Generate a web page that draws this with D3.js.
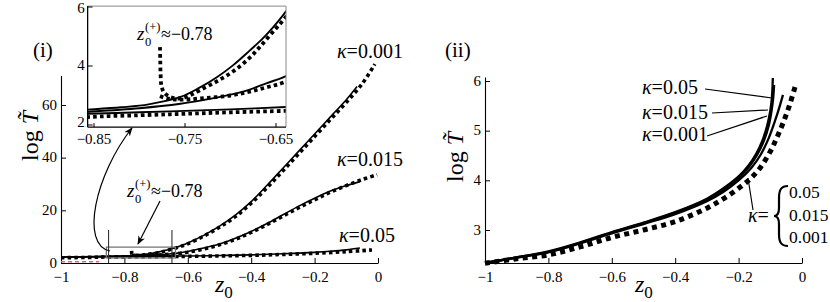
<!DOCTYPE html>
<html><head><meta charset="utf-8">
<script src="https://cdn.jsdelivr.net/npm/d3@7"></script>
<style>
body{margin:0;background:#fff}
</style>
</head><body>
<svg id="c" width="830" height="302"></svg>
<script>
// ---------------- DATA ----------------
// Panel (i): log T~ vs z0, solid = exact, dotted = approximation
const k001Solid = [[-1,2.3],[-0.95,2.36],[-0.9,2.44],[-0.857,2.52],[-0.82,2.6],[-0.79,2.7],[-0.755,2.95],[-0.735,3.25],[-0.715,3.62],[-0.697,4.03],[-0.679,4.52],[-0.665,4.92],[-0.653,5.32],[-0.639,5.85],[-0.62,6.6],[-0.6,7.6],[-0.55,10.5],[-0.5,14],[-0.45,18.2],[-0.4,23.3],[-0.35,29.5],[-0.3,36],[-0.25,42.5],[-0.2,49],[-0.15,55.5],[-0.1,62],[-0.066,67]];
const k001Dot = [[-0.7775,4.64],[-0.7772,4.2],[-0.7768,3.7],[-0.776,3.35],[-0.773,3.1],[-0.766,2.95],[-0.755,2.9],[-0.745,3.0],[-0.733,3.19],[-0.715,3.48],[-0.697,3.82],[-0.68,4.25],[-0.668,4.64],[-0.655,5.1],[-0.64,5.63],[-0.62,6.4],[-0.6,7.3],[-0.55,10.2],[-0.5,13.6],[-0.45,17.6],[-0.4,22.7],[-0.35,28.6],[-0.3,35],[-0.25,41.5],[-0.2,48],[-0.15,54.5],[-0.1,61],[-0.05,68],[-0.01,75.5]];
const k015Solid = [[-1,2.25],[-0.9,2.38],[-0.857,2.45],[-0.8,2.57],[-0.755,2.72],[-0.733,2.83],[-0.7,3.03],[-0.679,3.2],[-0.66,3.42],[-0.639,3.66],[-0.6,4.4],[-0.55,5.7],[-0.5,7.2],[-0.45,9.4],[-0.4,12],[-0.35,15],[-0.3,18.3],[-0.25,21.6],[-0.2,24.6],[-0.15,27.3],[-0.1,29.4],[-0.057,30.9]];
const k015Dot = [[-0.7775,2.98],[-0.77,2.9],[-0.755,2.86],[-0.733,2.9],[-0.7,3.0],[-0.679,3.13],[-0.66,3.28],[-0.639,3.47],[-0.6,4.1],[-0.55,5.3],[-0.5,6.9],[-0.45,9.0],[-0.4,11.6],[-0.35,14.6],[-0.3,17.8],[-0.25,21.0],[-0.2,24.0],[-0.15,26.9],[-0.1,29.4],[-0.05,31.7],[-0.003,33.5]];
const k05Solid = [[-1,2.2],[-0.9,2.32],[-0.857,2.38],[-0.8,2.43],[-0.75,2.48],[-0.7,2.53],[-0.639,2.61],[-0.6,2.66],[-0.5,2.85],[-0.4,3.1],[-0.3,3.5],[-0.2,4.05],[-0.15,4.45],[-0.1,5.0],[-0.057,5.7]];
const k05Dot = [[-1,2.0],[-0.9,2.15],[-0.857,2.27],[-0.8,2.33],[-0.75,2.38],[-0.7,2.43],[-0.639,2.48],[-0.6,2.52],[-0.5,2.68],[-0.4,2.9],[-0.3,3.25],[-0.2,3.7],[-0.1,4.3],[-0.019,4.95]];
const pinkLeft = [[-1,0.5],[-0.88,0.5]];

// Panel (ii)
const r05Solid = [[-1,2.34],[-0.9,2.45],[-0.8,2.57],[-0.7,2.75],[-0.6,2.96],[-0.5,3.15],[-0.4,3.36],[-0.3,3.63],[-0.25,3.83],[-0.2,4.08],[-0.17,4.29],[-0.145,4.53],[-0.125,4.8],[-0.11,5.1],[-0.1,5.4],[-0.095,5.66],[-0.092,6.06]];
const r015Solid = [[-1,2.34],[-0.9,2.45],[-0.8,2.56],[-0.7,2.74],[-0.6,2.95],[-0.5,3.14],[-0.4,3.35],[-0.3,3.61],[-0.25,3.8],[-0.2,4.05],[-0.165,4.29],[-0.14,4.53],[-0.12,4.8],[-0.105,5.1],[-0.096,5.4],[-0.091,5.65],[-0.088,5.92]];
const r001Solid = [[-1,2.34],[-0.9,2.44],[-0.8,2.55],[-0.7,2.73],[-0.6,2.93],[-0.5,3.12],[-0.4,3.32],[-0.3,3.58],[-0.25,3.76],[-0.2,4.0],[-0.16,4.25],[-0.13,4.52],[-0.105,4.85],[-0.085,5.2],[-0.07,5.5],[-0.06,5.72]];
const rDot = [[-1,2.33],[-0.9,2.42],[-0.8,2.5],[-0.7,2.66],[-0.6,2.85],[-0.5,3.0],[-0.4,3.17],[-0.3,3.44],[-0.25,3.62],[-0.2,3.84],[-0.16,4.05],[-0.13,4.27],[-0.1,4.58],[-0.08,4.85],[-0.06,5.15],[-0.04,5.5],[-0.022,5.88]];
const pinkRight = [[-1,2.34],[-0.9,2.41]];

// Ticks
const xMajor = [-1,-0.8,-0.6,-0.4,-0.2,0];
const xMinor = d3.range(-1,0.001,0.05);
const leftYMajor = [0,20,40,60];
const leftYMinor = d3.range(0,71,5);
const insetXMajor = [-0.85,-0.75,-0.65];
const insetYMajor = [2,4,6];
const rightYMajor = [3,4,5,6];
const rightYMinor = d3.range(2.4,6.05,0.2);
const braceKappas = ["0.05","0.015","0.001"];

const fmt = v => (v===0?"0":(v<0?"\u2212":"")+String(Math.abs(v)));
const FONT = '"Liberation Serif","Times New Roman",serif';

// ---------------- SCALES ----------------
const svg = d3.select("#c");
const lx = d3.scaleLinear().domain([-1,0]).range([61,378]);
const ly = d3.scaleLinear().domain([0,60]).range([263,105]);
const ix = d3.scaleLinear().domain([-0.85,-0.65]).range([94,276]);
const iy = d3.scaleLinear().domain([2,6]).range([125,7]);
const rx = d3.scaleLinear().domain([-1,0]).range([485,802]);
const ry = d3.scaleLinear().domain([3,6]).range([230,81]);

const curve = d3.curveCatmullRom.alpha(0.5);
function path(g, data, xs, ys, w, dash, color){
  const p = g.append("path").datum(data)
    .attr("d", d3.line().x(d=>xs(d[0])).y(d=>ys(d[1])).curve(curve))
    .attr("fill","none").attr("stroke",color||"#000").attr("stroke-width",w);
  if(dash) p.attr("stroke-dasharray",dash);
  return p;
}
function axes(g, xs, ys, yMaj, yMin, yFmt){
  const gx = g.append("g").attr("transform",`translate(0,${ys(ys.domain()[0])})`);
  gx.call(d3.axisBottom(xs).tickValues(xMinor).tickSize(-2.5).tickSizeOuter(0).tickFormat(""));
  gx.call(d3.axisBottom(xs).tickValues(xMajor).tickSize(-5).tickSizeOuter(0).tickPadding(8.5).tickFormat(fmt));
  const gy = g.append("g").attr("transform",`translate(${xs(-1)},0)`);
  gy.call(d3.axisLeft(ys).tickValues(yMin).tickSize(-2.5).tickSizeOuter(0).tickFormat(""));
  gy.call(d3.axisLeft(ys).tickValues(yMaj).tickSize(-5).tickSizeOuter(0).tickPadding(4).tickFormat(yFmt));
  [gx,gy].forEach(a=>{a.selectAll("text").attr("font-size",15);
    a.selectAll("path.domain").attr("stroke","#000").attr("stroke-width",1.1);
    a.selectAll("line").attr("stroke","#000");});
  gy.selectAll("text").attr("dy","0.28em");
  return {gx,gy};
}

// ---------------- PANEL (i) ----------------
const L = svg.append("g");
const lyTop = 71.2;
const lyAx = d3.scaleLinear().domain([0,lyTop]).range([263, ly(lyTop)]);
axes(L, lx, lyAx, leftYMajor, leftYMinor, d=>String(d));

path(L, pinkLeft, lx, ly, 1.5, "4,3", "#e0609a");
[k05Solid,k015Solid,k001Solid].forEach(d=>path(L,d,lx,ly,1.6));
[k05Dot,k015Dot,k001Dot].forEach(d=>path(L,d,lx,ly,3.6,"3.5,3.2"));

// zoom box
L.append("rect").attr("x",lx(-0.857)).attr("y",ly(6.03)).attr("width",lx(-0.639)-lx(-0.857)).attr("height",ly(1.93)-ly(6.03))
  .attr("fill","none").attr("stroke","#777").attr("stroke-width",1.3);
[-0.85,-0.65].forEach(z=>L.append("line").attr("x1",lx(z)).attr("x2",lx(z)).attr("y1",ly(0)).attr("y2",ly(12.5)).attr("stroke","#333").attr("stroke-width",1.1));

const defs = svg.append("defs");
defs.append("marker").attr("id","ah").attr("viewBox","0 0 10 10").attr("refX",9).attr("refY",5)
  .attr("markerWidth",9).attr("markerHeight",9).attr("markerUnits","userSpaceOnUse").attr("orient","auto")
  .append("path").attr("d","M0,1 L10,5 L0,9 L3,5 Z").attr("fill","#000");
L.append("path").attr("d",`M110,251 C80,245 95,175 132,128`).attr("fill","none").attr("stroke","#000").attr("stroke-width",1.2).attr("marker-end","url(#ah)");
L.append("line").attr("x1",160).attr("y1",201).attr("x2",138).attr("y2",244).attr("stroke","#000").attr("stroke-width",1.2).attr("marker-end","url(#ah)");

function zLabel(g,x,y){
  g.append("text").attr("x",x).attr("y",y).attr("font-size",19).attr("font-style","italic").text("z");
  g.append("text").attr("x",x+8).attr("y",y-9).attr("font-size",12.5).text("(+)");
  g.append("text").attr("x",x+8).attr("y",y+6).attr("font-size",12.5).text("0");
  g.append("text").attr("x",x+24).attr("y",y).attr("font-size",18).text("\u2248\u22120.78");
}
zLabel(L,127,197);

// inset
const I = svg.append("g");
const fx0 = ix(-0.857), fx1 = ix(-0.639), fy0 = iy(6.03), fy1 = iy(1.93);
I.append("rect").attr("x",fx0).attr("y",fy0).attr("width",fx1-fx0).attr("height",fy1-fy0).attr("fill","#fff");
defs.append("clipPath").attr("id","ic").append("rect").attr("x",fx0).attr("y",fy0).attr("width",fx1-fx0).attr("height",fy1-fy0);
const IC = I.append("g").attr("clip-path","url(#ic)");
[k05Solid,k015Solid,k001Solid].forEach(d=>path(IC,d,ix,iy,1.9));
[k05Dot,k015Dot,k001Dot].forEach(d=>path(IC,d,ix,iy,3.8,"3.6,3.2"));
I.append("line").attr("x1",fx0).attr("x2",fx1).attr("y1",fy0).attr("y2",fy0).attr("stroke","#888").attr("stroke-width",1);
I.append("line").attr("x1",fx1).attr("x2",fx1).attr("y1",fy0).attr("y2",fy1).attr("stroke","#888").attr("stroke-width",1);
I.append("line").attr("x1",fx0).attr("x2",fx0).attr("y1",fy0).attr("y2",fy1).attr("stroke","#000").attr("stroke-width",1.3);
I.append("line").attr("x1",fx0).attr("x2",fx1).attr("y1",fy1).attr("y2",fy1).attr("stroke","#000").attr("stroke-width",1.3);
insetYMajor.forEach(v=>{
  I.append("line").attr("x1",fx0).attr("x2",fx0+5).attr("y1",iy(v)).attr("y2",iy(v)).attr("stroke","#000");
  I.append("text").attr("x",fx0-3).attr("y",Math.min(Math.max(iy(v)+4,13),127)).attr("text-anchor","end").attr("font-size",15).text(v);
});
insetXMajor.forEach(v=>{
  I.append("line").attr("x1",ix(v)).attr("x2",ix(v)).attr("y1",fy1).attr("y2",fy1-4).attr("stroke","#000");
  I.append("text").attr("x",ix(v)).attr("y",144).attr("text-anchor","middle").attr("font-size",15).text(fmt(v));
});
zLabel(I,137,40);

// labels panel (i)
svg.append("text").attr("x",33).attr("y",57).attr("font-size",21).text("(i)");
function yLabel(x,y){
  const t = svg.append("text").attr("transform",`translate(${x},${y}) rotate(-90)`).attr("text-anchor","middle").attr("font-size",24);
  t.append("tspan").text("log ");
  t.append("tspan").attr("font-style","italic").text("T\u0303");
}
yLabel(38,136);
function xLabel(x,y){
  const t = svg.append("text").attr("x",x).attr("y",y).attr("font-size",24);
  t.append("tspan").attr("font-style","italic").text("z");
  t.append("tspan").attr("font-size",17).attr("dy",6).text("0");
}
xLabel(215,292);
function kLab(x,y,s,fs){
  const t = svg.append("text").attr("x",x).attr("y",y).attr("font-size",fs||20);
  t.append("tspan").attr("font-style","italic").text("\u03ba");
  t.append("tspan").text("="+s);
}
kLab(337,58,"0.001");
kLab(337,166,"0.015");
kLab(339,242,"0.05");

// ---------------- PANEL (ii) ----------------
const R = svg.append("g");
const ryAx = d3.scaleLinear().domain([2.336,6.08]).range([ry(2.336), ry(6.08)]);
axes(R, rx, ryAx, rightYMajor, rightYMinor, d=>String(d));
path(R, pinkRight, rx, ry, 1.5, "4,3", "#e0609a");
path(R, rDot, rx, ry, 5, "5,4.5");
[r001Solid,r015Solid,r05Solid].forEach(d=>path(R,d,rx,ry,2.3));

svg.append("text").attr("x",445).attr("y",57).attr("font-size",21).text("(ii)");
yLabel(463,157);
xLabel(635,292);
kLab(642,94,"0.05",20);
kLab(642,119,"0.015",20);
kLab(642,141,"0.001",20);
[[705,89,772,98],[712,113,768,110],[707,136,767,116],[748,178,753,210]].forEach(a=>
  R.append("line").attr("x1",a[0]).attr("y1",a[1]).attr("x2",a[2]).attr("y2",a[3]).attr("stroke","#000").attr("stroke-width",1.2));
const kt = svg.append("text").attr("x",748).attr("y",222).attr("font-size",20);
kt.append("tspan").attr("font-style","italic").text("\u03ba");
kt.append("tspan").text("=");
R.append("path").attr("d","M788,186 C781,186 779,190 779,198 L779,208 C779,213 778,216 774,216 C778,216 779,219 779,224 L779,234 C779,242 781,246 788,246")
  .attr("fill","none").attr("stroke","#000").attr("stroke-width",2.2);
braceKappas.forEach((s,i)=>svg.append("text").attr("x",789).attr("y",198+i*22.5).attr("font-size",17.5).text(s));

// fonts on every text, inline
svg.selectAll("g").attr("font-family",null);
svg.selectAll("text").style("font-family",FONT).style("fill","#000");
</script>
</body></html>
